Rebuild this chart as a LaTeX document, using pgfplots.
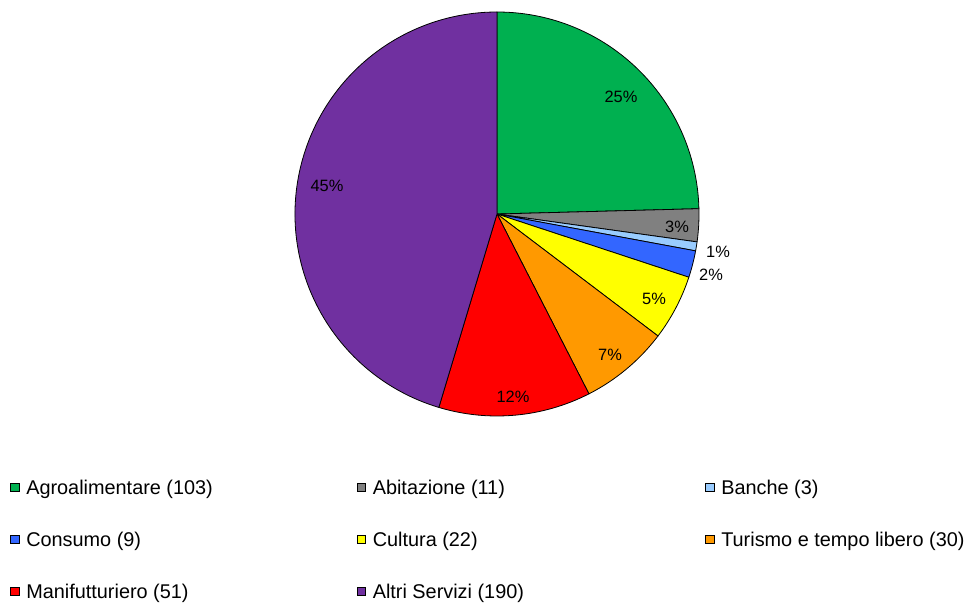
\documentclass[border=0pt]{standalone}
\usepackage{pgfplots}
\pgfplotsset{compat=1.18}
\usepackage{fontspec}
\setmainfont{Liberation Sans}
\definecolor{cAgro}{HTML}{00B050}
\definecolor{cAbit}{HTML}{808080}
\definecolor{cBanc}{HTML}{99CCFF}
\definecolor{cCons}{HTML}{3366FF}
\definecolor{cCult}{HTML}{FFFF00}
\definecolor{cTur}{HTML}{FF9900}
\definecolor{cMan}{HTML}{FF0000}
\definecolor{cAltri}{HTML}{7030A0}
\newcommand\slice[3]{\filldraw[fill=#3, draw=black, line width=0.6pt, line join=round]
  (axis cs:497,388) -- (axis cs:{497+202*cos(#1)},{388+202*sin(#1)})
  arc[start angle=#1, end angle=#2, radius=151.5pt] -- cycle;}
\newcommand\legitem[4]{%
  \filldraw[fill=#4, draw=black, line width=0.6pt] (axis cs:{#1-4.3},{#2+2.5}) rectangle (axis cs:{#1+4.3},{#2+11.1});
  \node[anchor=base west, inner sep=0pt, font=\fontsize{14.9}{17}\selectfont] at (axis cs:{#1+11},#2) {#3};}
\begin{document}
\begin{tikzpicture}
% values: Agroalimentare 103, Abitazione 11, Banche 3, Consumo 9, Cultura 22,
% Turismo e tempo libero 30, Manifutturiero 51, Altri Servizi 190
\pgfmathsetmacro\tot{103+11+3+9+22+30+51+190}
\pgfmathsetmacro\aA{90}
\pgfmathsetmacro\aB{\aA-103/\tot*360}
\pgfmathsetmacro\aC{\aB-11/\tot*360}
\pgfmathsetmacro\aD{\aC-3/\tot*360}
\pgfmathsetmacro\aE{\aD-9/\tot*360}
\pgfmathsetmacro\aF{\aE-22/\tot*360}
\pgfmathsetmacro\aG{\aF-30/\tot*360}
\pgfmathsetmacro\aH{\aG-51/\tot*360}
\pgfmathsetmacro\aI{\aH-190/\tot*360}
\begin{axis}[x=0.75pt, y=0.75pt, xmin=0, xmax=966, ymin=0, ymax=602,
  hide axis, clip=false]
\path (axis cs:0,0) rectangle (axis cs:966,602);
\slice{\aA}{\aB}{cAgro}
\slice{\aB}{\aC}{cAbit}
\slice{\aC}{\aD}{cBanc}
\slice{\aD}{\aE}{cCons}
\slice{\aE}{\aF}{cCult}
\slice{\aF}{\aG}{cTur}
\slice{\aG}{\aH}{cMan}
\slice{\aH}{\aI}{cAltri}
\begin{scope}[every node/.style={font=\fontsize{12.3}{14}\selectfont, inner sep=0pt}]
\node at (axis cs:621,505) {25\%};
\node at (axis cs:677,375) {3\%};
\node at (axis cs:718,350) {1\%};
\node at (axis cs:711,327) {2\%};
\node at (axis cs:654,303) {5\%};
\node at (axis cs:610,247) {7\%};
\node at (axis cs:513,205) {12\%};
\node at (axis cs:327,416) {45\%};
\end{scope}
\legitem{15}{108}{Agroalimentare (103)}{cAgro}
\legitem{361.5}{108}{Abitazione (11)}{cAbit}
\legitem{710}{108}{Banche (3)}{cBanc}
\legitem{15}{56}{Consumo (9)}{cCons}
\legitem{361.5}{56}{Cultura (22)}{cCult}
\legitem{710}{56}{Turismo e tempo libero (30)}{cTur}
\legitem{15}{4}{Manifutturiero (51)}{cMan}
\legitem{361.5}{4}{Altri Servizi (190)}{cAltri}
\end{axis}
\end{tikzpicture}
\end{document}
